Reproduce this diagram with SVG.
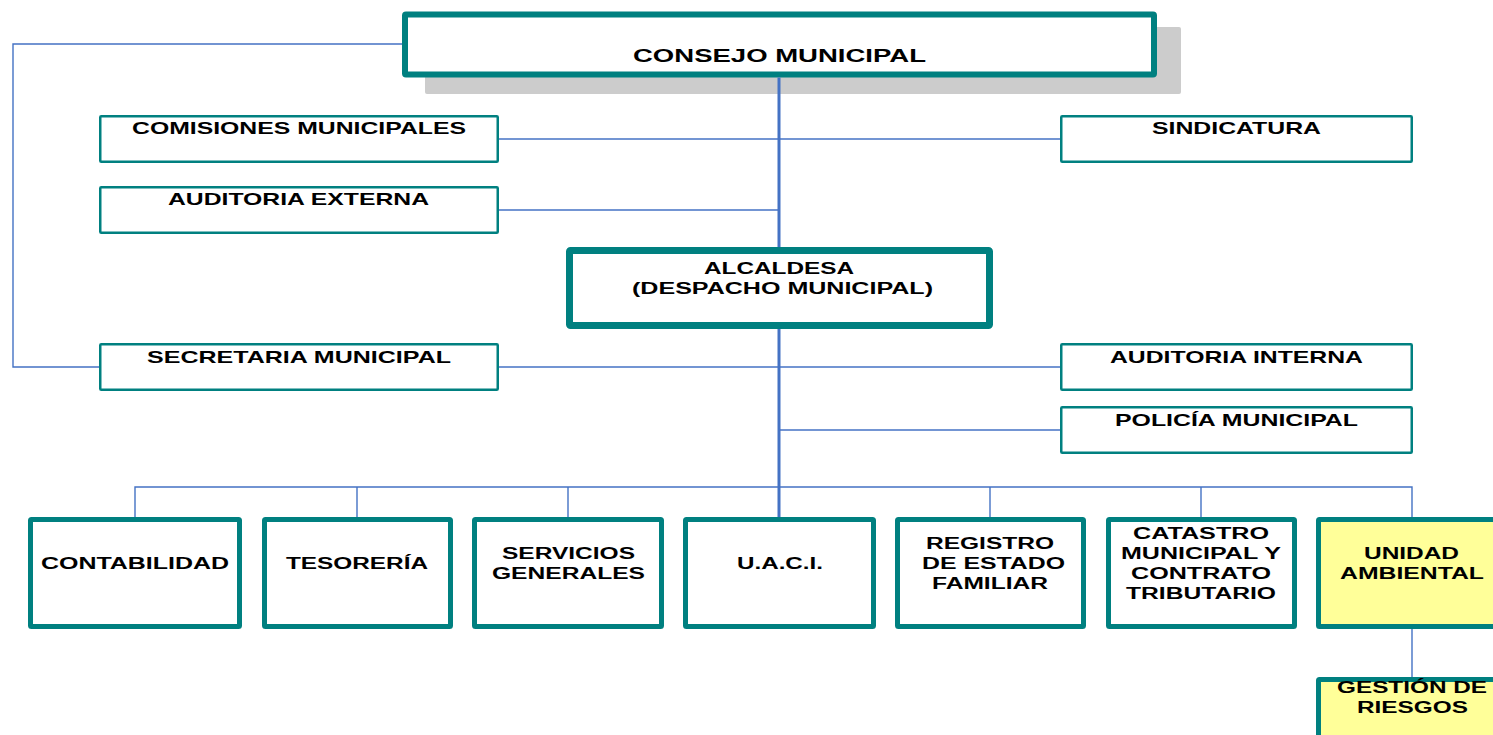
<svg xmlns="http://www.w3.org/2000/svg" width="1493" height="735" viewBox="0 0 1493 735">
<style>
.t{font-family:"Liberation Sans",Arial,sans-serif;font-weight:bold;fill:#000;text-anchor:middle}
.s{font-size:17px}
.b{font-size:16px}
.thin{fill:#fff;stroke:#008080;stroke-width:2.5}
.thick{fill:#fff;stroke:#008080;stroke-width:5}
.yel{fill:#FFFF99;stroke:#008080;stroke-width:5}
.c{stroke:#4472C4;stroke-width:1.4;fill:none}
.m{stroke:#4472C4;stroke-width:3;fill:none}
</style>
<rect width="1493" height="735" fill="#fff"/>
<g id="consejo">
<rect x="425" y="27" width="756" height="67" rx="2" fill="#CCCCCC"/>
<rect x="405" y="14.5" width="749" height="60" rx="1" fill="#fff" stroke="#008080" stroke-width="6"/>
<text class="t" x="779.5" y="62" font-size="18.5" textLength="293" lengthAdjust="spacingAndGlyphs">CONSEJO MUNICIPAL</text>
</g>
<g id="connectors">
<polyline class="c" points="402,44 13,44 13,367 99,367"/>
<line class="m" x1="779" y1="77.5" x2="779" y2="517"/>
<line class="c" x1="498" y1="139" x2="1060" y2="139"/>
<line class="c" x1="498" y1="210" x2="779" y2="210"/>
<line class="c" x1="498" y1="367" x2="1065" y2="367"/>
<line class="c" x1="779" y1="430" x2="1060" y2="430"/>
<polyline class="c" points="135,517 135,487 1412,487 1412,517"/>
<line class="c" x1="357" y1="487" x2="357" y2="517"/>
<line class="c" x1="568" y1="487" x2="568" y2="517"/>
<line class="c" x1="990" y1="487" x2="990" y2="517"/>
<line class="c" x1="1201" y1="487" x2="1201" y2="517"/>
<line class="c" x1="1412" y1="629" x2="1412" y2="677"/>
</g>
<g id="comisiones">
<rect class="thin" x="100.25" y="116.25" width="397.5" height="45.5" rx="1"/>
<text class="t s" x="299" y="134" textLength="334" lengthAdjust="spacingAndGlyphs">COMISIONES MUNICIPALES</text>
</g>
<g id="sindicatura">
<rect class="thin" x="1061.25" y="116.25" width="350.5" height="45.5" rx="1"/>
<text class="t s" x="1236.5" y="134" textLength="169" lengthAdjust="spacingAndGlyphs">SINDICATURA</text>
</g>
<g id="auditoria-externa">
<rect class="thin" x="100.25" y="187.25" width="397.5" height="45.5" rx="1"/>
<text class="t s" x="298.5" y="205" textLength="261" lengthAdjust="spacingAndGlyphs">AUDITORIA EXTERNA</text>
</g>
<g id="alcaldesa">
<rect x="569.5" y="250.5" width="420" height="75" rx="1" fill="#fff" stroke="#008080" stroke-width="7"/>
<text class="t b" x="779" y="274" textLength="150" lengthAdjust="spacingAndGlyphs">ALCALDESA</text>
<text class="t b" x="782.5" y="294" textLength="301" lengthAdjust="spacingAndGlyphs">(DESPACHO MUNICIPAL)</text>
</g>
<g id="secretaria">
<rect class="thin" x="100.25" y="344.25" width="397.5" height="45.5" rx="1"/>
<text class="t s" x="299" y="363" textLength="304" lengthAdjust="spacingAndGlyphs">SECRETARIA MUNICIPAL</text>
</g>
<g id="auditoria-interna">
<rect class="thin" x="1061.25" y="344.25" width="350.5" height="45.5" rx="1"/>
<text class="t s" x="1236.5" y="363" textLength="253" lengthAdjust="spacingAndGlyphs">AUDITORIA INTERNA</text>
</g>
<g id="policia">
<rect class="thin" x="1061.25" y="407.25" width="350.5" height="45.5" rx="1"/>
<text class="t s" x="1236.5" y="426" textLength="243" lengthAdjust="spacingAndGlyphs">POLICÍA MUNICIPAL</text>
</g>
<g id="contabilidad">
<rect class="thick" x="30.5" y="519.5" width="209" height="107" rx="1"/>
<text class="t b" x="135" y="569" textLength="188" lengthAdjust="spacingAndGlyphs">CONTABILIDAD</text>
</g>
<g id="tesoreria">
<rect class="thick" x="264.5" y="519.5" width="186" height="107" rx="1"/>
<text class="t b" x="357" y="569" textLength="142" lengthAdjust="spacingAndGlyphs">TESORERÍA</text>
</g>
<g id="servicios">
<rect class="thick" x="474.5" y="519.5" width="187" height="107" rx="1"/>
<text class="t b" x="568.5" y="559" textLength="133" lengthAdjust="spacingAndGlyphs">SERVICIOS</text>
<text class="t b" x="568.5" y="579" textLength="153" lengthAdjust="spacingAndGlyphs">GENERALES</text>
</g>
<g id="uaci">
<rect class="thick" x="685.5" y="519.5" width="188" height="107" rx="1"/>
<text class="t b" x="780" y="569" textLength="86" lengthAdjust="spacingAndGlyphs">U.A.C.I.</text>
</g>
<g id="registro">
<rect class="thick" x="897.5" y="519.5" width="186" height="107" rx="1"/>
<text class="t b" x="990" y="549" textLength="128" lengthAdjust="spacingAndGlyphs">REGISTRO</text>
<text class="t b" x="993.5" y="569" textLength="143" lengthAdjust="spacingAndGlyphs">DE ESTADO</text>
<text class="t b" x="990" y="589" textLength="116" lengthAdjust="spacingAndGlyphs">FAMILIAR</text>
</g>
<g id="catastro">
<rect class="thick" x="1108.5" y="519.5" width="186" height="107" rx="1"/>
<text class="t b" x="1201" y="539" textLength="136" lengthAdjust="spacingAndGlyphs">CATASTRO</text>
<text class="t b" x="1201" y="559" textLength="160" lengthAdjust="spacingAndGlyphs">MUNICIPAL Y</text>
<text class="t b" x="1201" y="579" textLength="140" lengthAdjust="spacingAndGlyphs">CONTRATO</text>
<text class="t b" x="1201" y="599" textLength="150" lengthAdjust="spacingAndGlyphs">TRIBUTARIO</text>
</g>
<g id="unidad-ambiental">
<rect class="yel" x="1318.5" y="519.5" width="190" height="107" rx="1"/>
<text class="t b" x="1411.5" y="559" textLength="95" lengthAdjust="spacingAndGlyphs">UNIDAD</text>
<text class="t b" x="1412" y="579" textLength="144" lengthAdjust="spacingAndGlyphs">AMBIENTAL</text>
</g>
<g id="gestion-riesgos">
<rect class="yel" x="1318.5" y="679.5" width="190" height="80" rx="1"/>
<text class="t b" x="1412" y="693" textLength="150" lengthAdjust="spacingAndGlyphs">GESTIÓN DE</text>
<text class="t b" x="1412.5" y="713" textLength="111" lengthAdjust="spacingAndGlyphs">RIESGOS</text>
</g>
</svg>
